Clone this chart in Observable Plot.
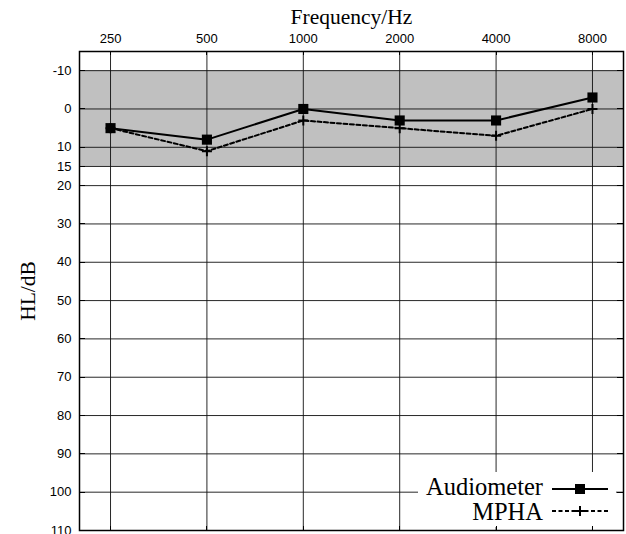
<!DOCTYPE html>
<html><head><meta charset="utf-8">
<script src="https://cdn.jsdelivr.net/npm/d3@7"></script>
<script src="https://cdn.jsdelivr.net/npm/@observablehq/plot@0.6"></script>
<style>body{margin:0;background:#fff}#chart svg{display:block}</style>
</head><body><div id="chart"></div>
<script>
const frequencies = [250, 500, 1000, 2000, 4000, 8000];
const audiometer = [5, 8, 0, 3, 3, -3];
const mpha = [5, 11, 3, 5, 7, 0];
const yTicks = [-10, 0, 10, 15, 20, 30, 40, 50, 60, 70, 80, 90, 100, 110];
const normalBand = [{lo: -10, hi: 15}];
const seriesNames = ["Audiometer", "MPHA"];
const xTitle = "Frequency/Hz";
const yTitle = "HL/dB";

const audData = frequencies.map((f, i) => ({f, v: audiometer[i]}));
const mphaData = frequencies.map((f, i) => ({f, v: mpha[i]}));

const plusSymbol = {draw(ctx, size) {
  const r = Math.sqrt(size / Math.PI);
  ctx.moveTo(-r, 0); ctx.lineTo(r, 0); ctx.moveTo(0, -r); ctx.lineTo(0, r);
}};

const serif = "'Liberation Serif','Times New Roman',serif";
const sans = "'Liberation Sans',Arial,sans-serif";

function legendMark(index, scales, values, dims) {
  const W = dims?.width ?? 626, H = dims?.height ?? 534;
  const right = W - (dims?.marginRight ?? 3), bottom = H - (dims?.marginBottom ?? 4);
  const g = d3.create("svg:g");
  g.append("rect").attr("x", right - 205).attr("y", bottom - 58).attr("width", 198).attr("height", 55).attr("fill", "white");
  const rows = [
    {name: seriesNames[0], base: bottom - 35, ly: bottom - 41, dash: null, sym: "square"},
    {name: seriesNames[1], base: bottom - 10, ly: bottom - 19, dash: "4,2.5", sym: "plus"}
  ];
  for (const r of rows) {
    g.append("text").attr("x", right - 80).attr("y", r.base).attr("text-anchor", "end")
      .attr("font-family", serif).attr("font-size", 24.5).attr("fill", "black").text(r.name);
    g.append("line").attr("x1", right - 71).attr("x2", right - 15).attr("y1", r.ly).attr("y2", r.ly)
      .attr("stroke", "black").attr("stroke-width", 2).attr("stroke-dasharray", r.dash);
    const cx = right - 43;
    if (r.sym === "square") {
      g.append("rect").attr("x", cx - 5).attr("y", r.ly - 5).attr("width", 10).attr("height", 10).attr("fill", "black");
    } else {
      g.append("path").attr("d", `M${cx-5},${r.ly}H${cx+5}M${cx},${r.ly-5}V${r.ly+5}`).attr("stroke", "black").attr("stroke-width", 2);
    }
  }
  return g.node();
}

function mirrorTicks(index, scales, values, dims) {
  const W = dims?.width ?? 626, H = dims?.height ?? 534;
  const left = dims?.marginLeft ?? 79, top = dims?.marginTop ?? 51;
  const right = W - (dims?.marginRight ?? 3), bottom = H - (dims?.marginBottom ?? 4);
  const g = d3.create("svg:g").attr("stroke", "black").attr("stroke-width", 1);
  for (const t of yTicks) {
    const y = Math.round(scales.y(t)) + 0.5;
    g.append("line").attr("x1", left).attr("x2", left + 6).attr("y1", y).attr("y2", y);
    g.append("line").attr("x1", right - 6).attr("x2", right).attr("y1", y).attr("y2", y);
  }
  for (const f of frequencies) {
    const x = Math.round(scales.x(f)) + 0.5;
    g.append("line").attr("x1", x).attr("x2", x).attr("y1", top).attr("y2", top + 4);
    g.append("line").attr("x1", x).attr("x2", x).attr("y1", bottom - 4).attr("y2", bottom);
  }
  return g.node();
}

const chart = Plot.plot({
  width: 626,
  height: 534,
  marginLeft: 79,
  marginRight: 3,
  marginTop: 51,
  marginBottom: 4,
  style: {background: "white", color: "black"},
  x: {type: "log", domain: [200, 10000], axis: null},
  y: {domain: [-15, 110], reverse: true, axis: null},
  marks: [
    Plot.rect(normalBand, {y1: "lo", y2: "hi", fill: "#c0c0c0"}),
    Plot.gridX(frequencies, {stroke: "#111", strokeOpacity: 0.9, strokeWidth: 1}),
    Plot.gridY(yTicks, {stroke: "#111", strokeOpacity: 0.9, strokeWidth: 1}),
    Plot.text(frequencies, {x: d => d, text: d => String(d), frameAnchor: "top", lineAnchor: "middle", textAnchor: "middle", dy: -13, fontSize: 13, fontFamily: sans, fill: "black"}),
    Plot.text(yTicks, {y: d => d, text: d => String(d), frameAnchor: "left", lineAnchor: "middle", textAnchor: "end", dx: -8, fontSize: 13, fontFamily: sans, fill: "black"}),
    Plot.text([xTitle], {text: d => d, frameAnchor: "top", lineAnchor: "middle", textAnchor: "middle", dy: -34, fontFamily: serif, fontSize: 21.5, fill: "black"}),
    Plot.text([yTitle], {text: d => d, frameAnchor: "left", lineAnchor: "middle", textAnchor: "middle", dx: -51, rotate: -90, fontFamily: serif, fontSize: 21.5, fill: "black"}),
    Plot.line(mphaData, {x: "f", y: "v", stroke: "black", strokeWidth: 2, strokeDasharray: "4,2.5"}),
    Plot.line(audData, {x: "f", y: "v", stroke: "black", strokeWidth: 2}),
    Plot.dot(mphaData, {x: "f", y: "v", symbol: plusSymbol, r: 5, fill: "none", stroke: "black", strokeWidth: 2}),
    Plot.dot(audData, {x: "f", y: "v", symbol: "square", r: 5.7, fill: "black", stroke: "none"}),
    legendMark,
    mirrorTicks,
    Plot.frame({stroke: "black", strokeWidth: 1.5})
  ]
});
document.getElementById("chart").append(chart);
</script>
</body></html>
